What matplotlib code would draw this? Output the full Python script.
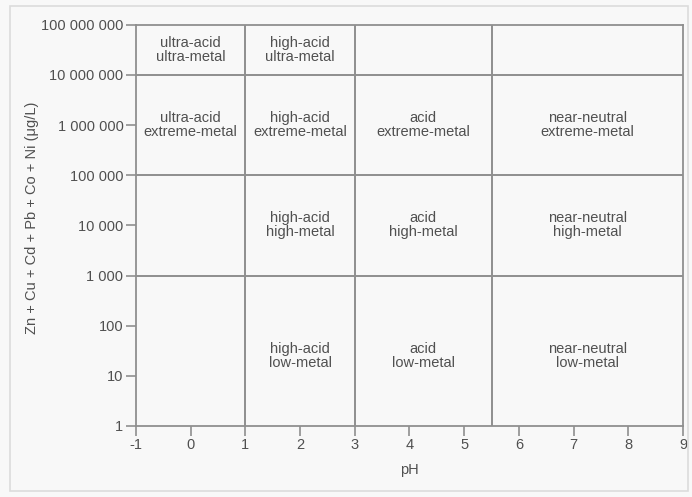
import matplotlib

matplotlib.use("Agg")
import matplotlib.pyplot as plt
from matplotlib.patches import Rectangle

plt.rcParams["font.family"] = ["Liberation Sans", "DejaVu Sans"]

# class boundaries of the diagram
ph_bounds = [1, 3, 5.5]
metal_bounds = [1e3, 1e5, 1e7]

# cell labels: (pH centre, metal centre, text)
cell_ph = [0, 2, 0, 2, 4.25, 7.25, 2, 4.25, 7.25, 2, 4.25, 7.25]
cell_metal = [10 ** 7.5, 10 ** 7.5, 1e6, 1e6, 1e6, 1e6, 1e4, 1e4, 1e4, 10 ** 1.4, 10 ** 1.4, 10 ** 1.4]
cell_text = [
    "ultra-acid\nultra-metal", "high-acid\nultra-metal",
    "ultra-acid\nextreme-metal", "high-acid\nextreme-metal",
    "acid\nextreme-metal", "near-neutral\nextreme-metal",
    "high-acid\nhigh-metal", "acid\nhigh-metal", "near-neutral\nhigh-metal",
    "high-acid\nlow-metal", "acid\nlow-metal", "near-neutral\nlow-metal",
]

x_ticks = list(range(-1, 10))
y_ticks = [1, 10, 100, 1e3, 1e4, 1e5, 1e6, 1e7, 1e8]
y_tick_labels = ["1", "10", "100", "1 000", "10 000", "100 000",
                 "1 000 000", "10 000 000", "100 000 000"]

grey = "#8f8f8f"
txt = "#505050"
fs = 10.5

fig = plt.figure(figsize=(6.92, 4.97), dpi=100, facecolor="#f8f8f8")
fig.patches.append(Rectangle((0.014, 0.012), 0.98, 0.975, transform=fig.transFigure,
                             fill=False, edgecolor="#dcdcdc", linewidth=1.2))
ax = fig.add_axes([0.1965, 0.143, 0.7905, 0.807])
ax.set_facecolor("#f8f8f8")
ax.set_yscale("log")
ax.set_xlim(-1, 9)
ax.set_ylim(1, 1e8)

for xb in ph_bounds:
    ax.axvline(xb, color=grey, linewidth=1.4)
for yb in metal_bounds:
    ax.axhline(yb, color=grey, linewidth=1.4)

for x, y, t in zip(cell_ph, cell_metal, cell_text):
    ax.text(x, y, t, ha="center", va="center", fontsize=fs, color=txt,
            linespacing=1.0)

ax.set_xticks(x_ticks)
ax.set_xticklabels([str(v) for v in x_ticks])
ax.set_yticks(y_ticks)
ax.set_yticklabels(y_tick_labels)
ax.yaxis.set_minor_locator(matplotlib.ticker.NullLocator())
ax.tick_params(axis="both", direction="out", length=7, width=1.2, color=grey,
               labelsize=fs, labelcolor=txt, pad=2)
for s in ax.spines.values():
    s.set_color(grey)
    s.set_linewidth(1.3)

ax.set_xlabel("pH", fontsize=fs, color=txt)
ax.xaxis.set_label_coords(0.5, -0.092)
ax.set_ylabel("Zn + Cu + Cd + Pb + Co + Ni (μg/L)", fontsize=fs, color=txt)
ax.yaxis.set_label_coords(-0.177, 0.52)

fig.savefig("out.png", dpi=100, facecolor=fig.get_facecolor())
